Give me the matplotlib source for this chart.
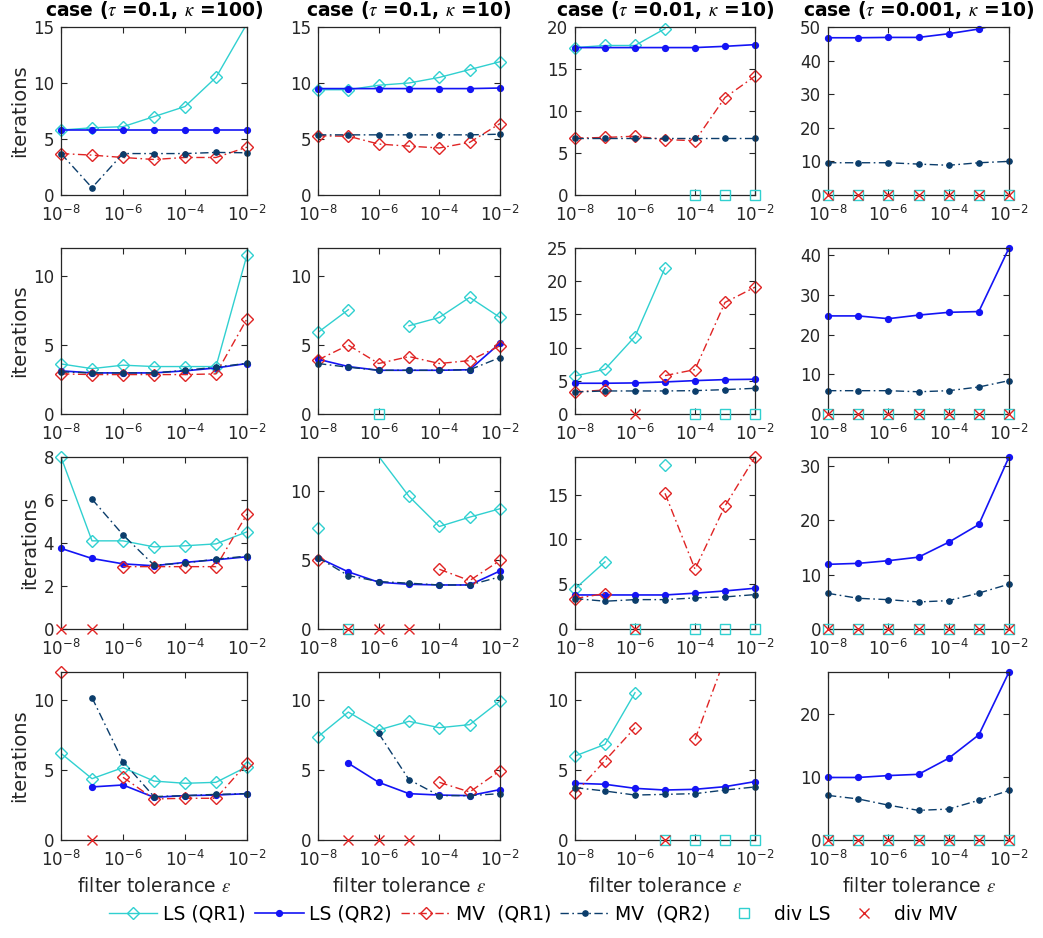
import numpy as np
import matplotlib
matplotlib.use('Agg')
import matplotlib.pyplot as plt
from matplotlib.lines import Line2D
from matplotlib.ticker import LogFormatterMathtext, NullLocator

nan = np.nan

# filter tolerances (x axis)
eps = [1e-8, 1e-7, 1e-6, 1e-5, 1e-4, 1e-3, 1e-2]

titles = [r'case ($\tau$ =0.1, $\kappa$ =100)', r'case ($\tau$ =0.1, $\kappa$ =10)',
          r'case ($\tau$ =0.01, $\kappa$ =10)', r'case ($\tau$ =0.001, $\kappa$ =10)']

# iterations per row; each row holds the four cases (columns)
ls1_row1 = [[5.8, 6.0, 6.1, 7.0, 7.9, 10.5, 15.3],
            [9.4, 9.4, 9.8, 10.0, 10.5, 11.2, 11.9],
            [17.55, 17.8, 17.8, 19.8, nan, nan, nan],
            [nan] * 7]
ls2_row1 = [[5.8, 5.8, 5.8, 5.8, 5.8, 5.8, 5.8],
            [9.5, 9.5, 9.5, 9.5, 9.5, 9.5, 9.55],
            [17.55, 17.55, 17.55, 17.55, 17.55, 17.7, 17.9],
            [46.8, 46.8, 46.9, 46.9, 48.0, 49.4, 51.6]]
mv1_row1 = [[3.7, 3.56, 3.35, 3.17, 3.35, 3.35, 4.27],
            [5.28, 5.25, 4.55, 4.36, 4.2, 4.7, 6.38],
            [6.77, 6.85, 7.0, 6.6, 6.46, 11.6, 14.15],
            [nan] * 7]
mv2_row1 = [[3.7, 0.65, 3.7, 3.7, 3.7, 3.8, 3.77],
            [5.37, 5.37, 5.37, 5.37, 5.37, 5.37, 5.43],
            [6.77, 6.77, 6.77, 6.77, 6.77, 6.77, 6.77],
            [9.6, 9.6, 9.6, 9.2, 8.85, 9.6, 10.0]]

ls1_row2 = [[3.62, 3.28, 3.53, 3.43, 3.43, 3.43, 11.5],
            [5.9, 7.54, nan, 6.38, 6.98, 8.43, 6.98],
            [5.73, 6.74, 11.67, 22.0, nan, nan, nan],
            [nan] * 7]
ls2_row2 = [[3.12, 2.97, 2.97, 2.97, 3.12, 3.33, 3.65],
            [3.96, 3.43, 3.16, 3.16, 3.16, 3.2, 5.12],
            [4.63, 4.63, 4.68, 4.83, 5.03, 5.18, 5.23],
            [24.7, 24.7, 24.0, 24.9, 25.6, 25.8, 41.8]]
mv1_row2 = [[2.9, 2.85, 2.85, 2.85, 2.85, 2.9, 6.88],
            [3.91, 4.98, 3.65, 4.15, 3.65, 3.86, 4.93],
            [3.32, 3.62, nan, 5.78, 6.69, 16.8, 19.1],
            [nan] * 7]
mv2_row2 = [[3.05, 2.97, 2.97, 2.97, 3.16, 3.38, 3.67],
            [3.65, 3.38, 3.16, 3.16, 3.16, 3.2, 4.08],
            [3.32, 3.47, 3.47, 3.47, 3.52, 3.67, 3.87],
            [5.87, 5.87, 5.87, 5.6, 5.87, 6.8, 8.4]]

ls1_row3 = [[8.0, 4.1, 4.1, 3.82, 3.87, 3.96, 4.52],
            [7.33, nan, 12.55, 9.64, 7.45, 8.13, 8.74],
            [4.48, 7.5, nan, 18.28, nan, nan, nan],
            [nan] * 7]
ls2_row3 = [[3.75, 3.28, 3.03, 2.94, 3.1, 3.22, 3.36],
            [5.19, 4.15, 3.4, 3.25, 3.2, 3.2, 4.22],
            [3.8, 3.8, 3.8, 3.8, 4.0, 4.25, 4.55],
            [11.88, 12.06, 12.55, 13.2, 15.94, 19.2, 31.6]]
mv1_row3 = [[nan, nan, 2.9, 2.9, 2.9, 2.9, 5.34],
            [5.02, nan, nan, nan, 4.34, 3.52, 4.98],
            [3.4, 3.96, nan, 15.15, 6.68, 13.73, 19.2],
            [nan] * 7]
mv2_row3 = [[nan, 6.04, 4.38, 2.97, 3.07, 3.25, 3.39],
            [5.19, 3.88, 3.45, 3.33, 3.2, 3.2, 3.79],
            [3.4, 3.1, 3.28, 3.28, 3.47, 3.58, 3.84],
            [6.55, 5.64, 5.39, 4.97, 5.21, 6.6, 8.24]]

ls1_row4 = [[6.19, 4.38, 5.17, 4.21, 4.05, 4.12, 5.24],
            [7.38, 9.14, 7.86, 8.48, 8.02, 8.24, 9.93],
            [6.0, 6.83, 10.52, nan, nan, nan, nan],
            [nan] * 7]
ls2_row4 = [[nan, 3.79, 3.93, 3.05, 3.17, 3.21, 3.31],
            [nan, 5.48, 4.12, 3.31, 3.21, 3.17, 3.6],
            [4.05, 3.98, 3.69, 3.57, 3.62, 3.81, 4.17],
            [9.9, 9.9, 10.2, 10.4, 12.94, 16.65, 26.6]]
mv1_row4 = [[12.0, nan, 4.48, 2.93, 2.98, 2.98, 5.48],
            [nan, nan, nan, nan, 4.12, 3.43, 4.95],
            [3.33, 5.67, 8.02, nan, 7.19, 13.0, 15.5],
            [nan] * 7]
mv2_row4 = [[nan, 10.17, 5.6, 3.1, 3.17, 3.26, 3.31],
            [nan, nan, 7.62, 4.31, 3.17, 3.17, 3.31],
            [3.74, 3.5, 3.21, 3.26, 3.31, 3.57, 3.79],
            [7.06, 6.5, 5.52, 4.69, 4.9, 6.29, 7.84]]

# divergence flags (1 = diverged, drawn at zero)
div_ls_row1 = [[0] * 7, [0] * 7, [0, 0, 0, 0, 1, 1, 1], [1] * 7]
div_mv_row1 = [[0] * 7, [0] * 7, [0] * 7, [1] * 7]
div_ls_row2 = [[0] * 7, [0, 0, 1, 0, 0, 0, 0], [0, 0, 0, 0, 1, 1, 1], [1] * 7]
div_mv_row2 = [[0] * 7, [0] * 7, [0, 0, 1, 0, 0, 0, 0], [1] * 7]
div_ls_row3 = [[0] * 7, [0, 1, 0, 0, 0, 0, 0], [0, 0, 1, 0, 1, 1, 1], [1] * 7]
div_mv_row3 = [[1, 1, 0, 0, 0, 0, 0], [0, 1, 1, 1, 0, 0, 0], [0, 0, 1, 0, 0, 0, 0], [1] * 7]
div_ls_row4 = [[0] * 7, [0] * 7, [0, 0, 0, 1, 1, 1, 1], [1] * 7]
div_mv_row4 = [[0, 1, 0, 0, 0, 0, 0], [0, 1, 1, 1, 0, 0, 0], [0, 0, 0, 1, 0, 0, 0], [1] * 7]

# y-axis limits and ticks per row
ytop = [[15, 15, 20, 50], [12, 12, 25, 41.8], [8, 12.5, 19.2, 31.6], [12, 12, 12, 26.6]]
yticks = [[[0, 5, 10, 15], [0, 5, 10, 15], [0, 5, 10, 15, 20], [0, 10, 20, 30, 40, 50]],
          [[0, 5, 10], [0, 5, 10], [0, 5, 10, 15, 20, 25], [0, 10, 20, 30, 40]],
          [[0, 2, 4, 6, 8], [0, 5, 10], [0, 5, 10, 15], [0, 10, 20, 30]],
          [[0, 5, 10], [0, 5, 10], [0, 5, 10], [0, 10, 20]]]

LS1 = [ls1_row1, ls1_row2, ls1_row3, ls1_row4]
LS2 = [ls2_row1, ls2_row2, ls2_row3, ls2_row4]
MV1 = [mv1_row1, mv1_row2, mv1_row3, mv1_row4]
MV2 = [mv2_row1, mv2_row2, mv2_row3, mv2_row4]
DIV_LS = [div_ls_row1, div_ls_row2, div_ls_row3, div_ls_row4]
DIV_MV = [div_mv_row1, div_mv_row2, div_mv_row3, div_mv_row4]

c_ls1 = '#30d0d0'
c_ls2 = '#1414f5'
c_mv1 = '#e02424'
c_mv2 = '#0b3d6b'
dashdot = (0, (6, 2.5, 1.2, 2.5))
grey = '#262626'

# line style + marker style for each series
styles = [
    (LS1, dict(color=c_ls1, lw=1.0, ls='-'), dict(marker='D', ms=6.5, mfc='none', mec=c_ls1, mew=1.0)),
    (LS2, dict(color=c_ls2, lw=1.2, ls='-'), dict(marker='o', ms=4.2, mfc=c_ls2, mec=c_ls2)),
    (MV1, dict(color=c_mv1, lw=1.0, ls=dashdot), dict(marker='D', ms=6.5, mfc='none', mec=c_mv1, mew=1.0)),
    (MV2, dict(color=c_mv2, lw=1.0, ls=dashdot), dict(marker='o', ms=3.8, mfc=c_mv2, mec=c_mv2)),
]

plt.rcParams['font.family'] = 'DejaVu Sans'

fig = plt.figure(figsize=(10.43, 9.38), dpi=100)

lefts = [61, 318, 575, 828]
widths = [186, 182, 180, 181]
tops = [27, 248, 457, 672]
bottoms = [195, 414, 629, 840]
W, H = 1043, 938

for r in range(4):
    for c in range(4):
        ax = fig.add_axes([lefts[c] / W, 1 - bottoms[r] / H,
                           widths[c] / W, (bottoms[r] - tops[r]) / H])
        top = ytop[r][c]
        for data, lsty, msty in styles:
            y = np.array(data[r][c], dtype=float)
            ax.plot(eps, y, **lsty)
            # markers stay whole on the frame; points beyond the top are left out
            keep = ~np.isnan(y) & (y <= top + 1e-9)
            ax.plot(np.array(eps)[keep], y[keep], ls='none', clip_on=False, **msty)
        xd = [e for e, f in zip(eps, DIV_LS[r][c]) if f]
        ax.plot(xd, [0] * len(xd), 's', ms=7, mfc='none', mec=c_ls1, mew=1.0,
                clip_on=False, zorder=4)
        xd = [e for e, f in zip(eps, DIV_MV[r][c]) if f]
        ax.plot(xd, [0] * len(xd), 'x', ms=7.5, mec=c_mv1, mew=1.0,
                clip_on=False, zorder=4)

        ax.set_xscale('log')
        ax.set_xlim(1e-8, 1e-2)
        ax.set_ylim(0, top)
        ax.set_xticks([1e-8, 1e-6, 1e-4, 1e-2])
        ax.xaxis.set_major_formatter(LogFormatterMathtext())
        ax.xaxis.set_minor_locator(NullLocator())
        ax.set_yticks(yticks[r][c])
        ax.tick_params(direction='in', top=True, right=True, length=4, width=0.8,
                       labelsize=12, colors=grey, labelcolor=grey)
        ax.tick_params(axis='x', pad=7)
        ax.tick_params(axis='y', pad=5)
        for s in ax.spines.values():
            s.set_color(grey)
            s.set_linewidth(0.9)
        if r == 0:
            ax.set_title(titles[c], fontsize=13.5, fontweight='bold', pad=8,
                         math_fontfamily='stix')
        if c == 0:
            ax.set_ylabel('iterations', fontsize=14, color=grey, labelpad=3)
        if r == 3:
            ax.set_xlabel(r'filter tolerance $\epsilon$', fontsize=13.5, color=grey,
                          labelpad=5, math_fontfamily='stix')

handles = [
    Line2D([], [], color=c_ls1, lw=1.0, marker='D', ms=6.5, mfc='none', mec=c_ls1),
    Line2D([], [], color=c_ls2, lw=1.2, marker='o', ms=4.2, mfc=c_ls2, mec=c_ls2),
    Line2D([], [], color=c_mv1, lw=1.0, linestyle=dashdot, marker='D', ms=6.5,
           mfc='none', mec=c_mv1),
    Line2D([], [], color=c_mv2, lw=1.0, linestyle=dashdot, marker='o', ms=3.8,
           mfc=c_mv2, mec=c_mv2),
    Line2D([], [], linestyle='none', marker='s', ms=7, mfc='none', mec=c_ls1),
    Line2D([], [], linestyle='none', marker='x', ms=7.5, mec=c_mv1),
]
labels = ['LS (QR1)', 'LS (QR2)', 'MV  (QR1)', 'MV  (QR2)', 'div LS', 'div MV']
fig.legend(handles, labels, loc='center', bbox_to_anchor=(533 / W, 1 - 914 / H),
           ncol=6, frameon=False, fontsize=13.5, handlelength=2.6,
           handletextpad=0.3, columnspacing=0.5, borderpad=0)

fig.savefig('out.png', dpi=100)
